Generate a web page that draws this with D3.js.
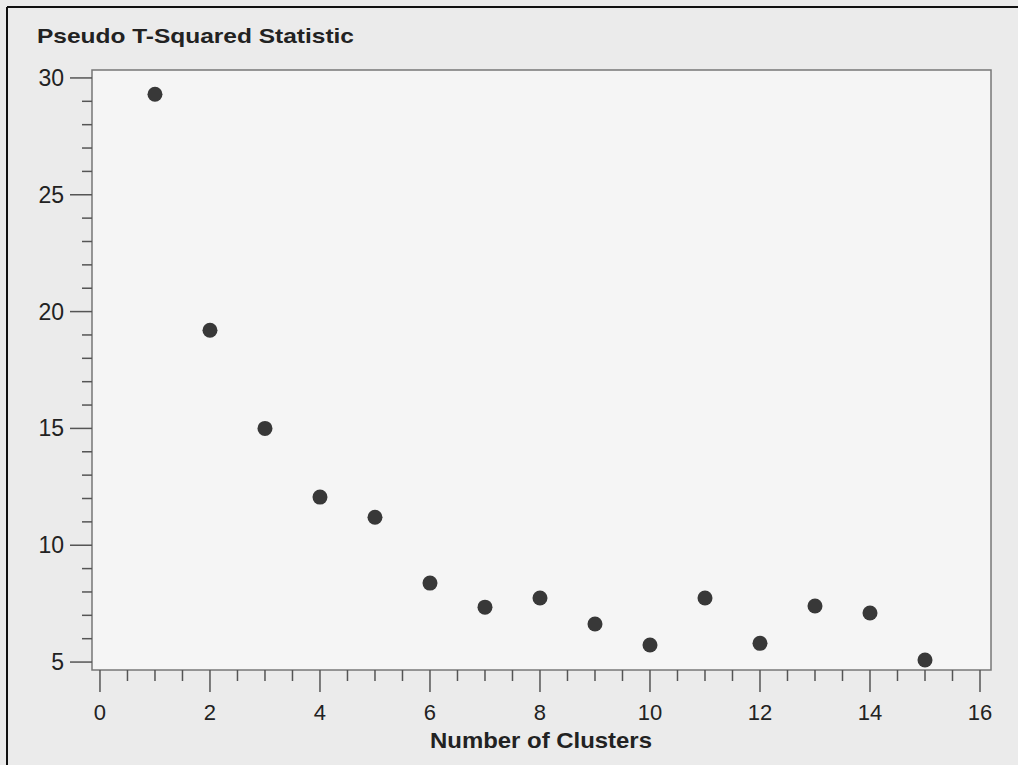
<!DOCTYPE html>
<html>
<head>
<meta charset="utf-8">
<script src="https://cdn.jsdelivr.net/npm/d3@7"></script>
<style>
  body { margin: 0; background: #ebebeb; }
  svg { display: block; font-family: "Liberation Sans", Arial, sans-serif; }
</style>
</head>
<body>
<svg id="chart" width="1018" height="765"></svg>
<script>
// data
var clusters = [1, 2, 3, 4, 5, 6, 7, 8, 9, 10, 11, 12, 13, 14, 15];
var tSquared = [29.3, 19.2, 15.0, 12.06, 11.2, 8.38, 7.35, 7.74, 6.63, 5.73, 7.74, 5.8, 7.4, 7.1, 5.09];
var xTicks = [0, 2, 4, 6, 8, 10, 12, 14, 16];
var yTicks = [5, 10, 15, 20, 25, 30];

var titleText = "Pseudo T-Squared Statistic";
var xTitle = "Number of Clusters";

var svg = d3.select("#chart");
var plotL = 92, plotR = 991, plotT = 70, plotB = 670;

var x = d3.scaleLinear().domain([-0.145, 16.2]).range([plotL, plotR]);
var y = d3.scaleLinear().domain([4.66, 30.34]).range([plotB, plotT]);

// outer frame (only top + left edge show in the scan)
svg.append("line").attr("x1", 7).attr("x2", 1018).attr("y1", 7).attr("y2", 7)
  .attr("stroke", "#111").attr("stroke-width", 2);
svg.append("line").attr("x1", 7).attr("x2", 7).attr("y1", 7).attr("y2", 765)
  .attr("stroke", "#111").attr("stroke-width", 2);

// plot area
svg.append("rect")
  .attr("x", plotL).attr("y", plotT)
  .attr("width", plotR - plotL).attr("height", plotB - plotT)
  .attr("fill", "#f5f5f5")
  .attr("stroke", "#777").attr("stroke-width", 1.5);

svg.append("text")
  .attr("x", 37).attr("y", 43)
  .attr("font-size", 21).attr("font-weight", "bold").attr("fill", "#222")
  .attr("textLength", 317).attr("lengthAdjust", "spacingAndGlyphs")
  .text(titleText);

// x axis: minor ticks every 0.5
var xMinor = d3.range(0, 16.01, 0.5).filter(function(v) { return v % 2 != 0; });
svg.selectAll(".xminor").data(xMinor).enter().append("line")
  .attr("x1", function(d) { return x(d); }).attr("x2", function(d) { return x(d); })
  .attr("y1", plotB).attr("y2", plotB + 11)
  .attr("stroke", "#555").attr("stroke-width", 1.5);
svg.selectAll(".xmajor").data(xTicks).enter().append("line")
  .attr("x1", function(d) { return x(d); }).attr("x2", function(d) { return x(d); })
  .attr("y1", plotB).attr("y2", plotB + 22)
  .attr("stroke", "#555").attr("stroke-width", 1.5);
svg.selectAll(".xlab").data(xTicks).enter().append("text")
  .attr("x", function(d) { return x(d); }).attr("y", 720)
  .attr("text-anchor", "middle").attr("font-size", 22).attr("fill", "#222")
  .text(function(d) { return d; });

svg.append("text")
  .attr("x", 541).attr("y", 748)
  .attr("text-anchor", "middle").attr("font-size", 22).attr("font-weight", "bold").attr("fill", "#222")
  .attr("textLength", 222).attr("lengthAdjust", "spacingAndGlyphs")
  .text(xTitle);

// y axis: minor ticks every 1
var yMinor = d3.range(5, 30.01, 1).filter(function(v) { return v % 5 != 0; });
svg.selectAll(".yminor").data(yMinor).enter().append("line")
  .attr("x1", plotL - 10).attr("x2", plotL)
  .attr("y1", function(d) { return y(d); }).attr("y2", function(d) { return y(d); })
  .attr("stroke", "#555").attr("stroke-width", 1.5);
svg.selectAll(".ymajor").data(yTicks).enter().append("line")
  .attr("x1", plotL - 22).attr("x2", plotL)
  .attr("y1", function(d) { return y(d); }).attr("y2", function(d) { return y(d); })
  .attr("stroke", "#555").attr("stroke-width", 1.5);
svg.selectAll(".ylab").data(yTicks).enter().append("text")
  .attr("x", 64).attr("y", function(d) { return y(d) + 8; })
  .attr("text-anchor", "end").attr("font-size", 23).attr("fill", "#222")
  .text(function(d) { return d; });

// points
svg.selectAll(".pt").data(clusters).enter().append("circle")
  .attr("cx", function(d) { return x(d); })
  .attr("cy", function(d, i) { return y(tSquared[i]); })
  .attr("r", 7.5)
  .attr("fill", "#383838");
</script>
</body>
</html>
